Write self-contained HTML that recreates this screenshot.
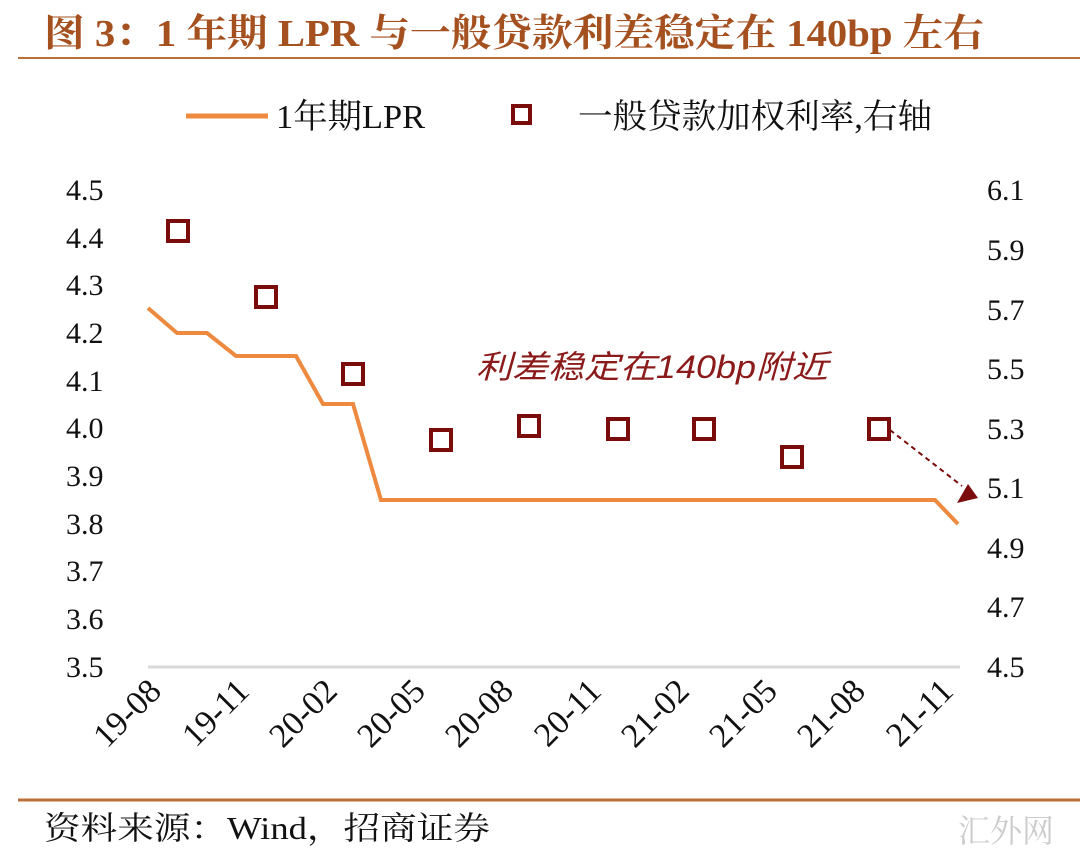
<!DOCTYPE html>
<html><head><meta charset="utf-8"><style>
body{margin:0;background:#fff;width:1080px;height:860px;overflow:hidden}
svg{display:block}
</style></head><body>
<svg width="1080" height="860" xmlns="http://www.w3.org/2000/svg" font-family="Liberation Serif, Noto Serif CJK SC, serif">
<text x="44" y="46" font-size="38" font-weight="bold" fill="#A5501F" textLength="940" lengthAdjust="spacingAndGlyphs">图 3：1 年期 LPR 与一般贷款利差稳定在 140bp 左右</text>
<line x1="18" y1="58" x2="1080" y2="58" stroke="#B87038" stroke-width="2"/>
<line x1="186" y1="116" x2="268" y2="116" stroke="#ED8A3F" stroke-width="5"/>
<text x="276" y="128" font-size="34" fill="#111" textLength="149" lengthAdjust="spacingAndGlyphs">1年期LPR</text>
<rect x="513" y="106" width="17" height="17" fill="none" stroke="#7B0C0C" stroke-width="4"/>
<text x="578" y="128" font-size="34" fill="#111" textLength="354" lengthAdjust="spacingAndGlyphs">一般贷款加权利率,右轴</text>
<g font-size="30" fill="#111">
<text x="66" y="200">4.5</text><text x="66" y="248">4.4</text><text x="66" y="295">4.3</text><text x="66" y="343">4.2</text><text x="66" y="391">4.1</text><text x="66" y="438">4.0</text><text x="66" y="486">3.9</text><text x="66" y="534">3.8</text><text x="66" y="581">3.7</text><text x="66" y="629">3.6</text><text x="66" y="677">3.5</text>
<text x="987" y="200">6.1</text><text x="987" y="260">5.9</text><text x="987" y="320">5.7</text><text x="987" y="379">5.5</text><text x="987" y="439">5.3</text><text x="987" y="498">5.1</text><text x="987" y="558">4.9</text><text x="987" y="617">4.7</text><text x="987" y="677">4.5</text>
</g>
<line x1="148" y1="667" x2="960" y2="667" stroke="#D9D9D9" stroke-width="3"/>
<polyline points="148,308 177,333 207,333 236,356 296,356 323,404 353,404 381,500 935,500 958,524" fill="none" stroke="#ED8A3F" stroke-width="4"/>
<g fill="none" stroke="#7B0C0C" stroke-width="4">
<rect x="168" y="221" width="20" height="20"/><rect x="256" y="287" width="20" height="20"/><rect x="343" y="364" width="20" height="20"/><rect x="431" y="430" width="20" height="20"/><rect x="519" y="416" width="20" height="20"/><rect x="608" y="419" width="20" height="20"/><rect x="694" y="419" width="20" height="20"/><rect x="782" y="447" width="20" height="20"/><rect x="869" y="419" width="20" height="20"/>
</g>
<line x1="890" y1="430" x2="962" y2="486" stroke="#7B0C0C" stroke-width="2" stroke-dasharray="5,4"/>
<polygon points="978,498 957,503 968,484" fill="#7B0C0C"/>
<text x="476" y="378" font-size="32" font-style="italic" fill="#8B1A1A" font-family="Liberation Sans, Noto Sans CJK SC, sans-serif" textLength="352" lengthAdjust="spacingAndGlyphs">利差稳定在140bp附近</text>
<g font-size="34" fill="#111" text-anchor="end">
<text transform="translate(163,693) rotate(-45)">19-08</text>
<text transform="translate(251,693) rotate(-45)">19-11</text>
<text transform="translate(339,693) rotate(-45)">20-02</text>
<text transform="translate(427,693) rotate(-45)">20-05</text>
<text transform="translate(515,693) rotate(-45)">20-08</text>
<text transform="translate(603,693) rotate(-45)">20-11</text>
<text transform="translate(691,693) rotate(-45)">21-02</text>
<text transform="translate(779,693) rotate(-45)">21-05</text>
<text transform="translate(867,693) rotate(-45)">21-08</text>
<text transform="translate(955,693) rotate(-45)">21-11</text>
</g>
<line x1="18" y1="800" x2="1080" y2="800" stroke="#B87038" stroke-width="3"/>
<text x="44" y="839" font-size="32" fill="#111" textLength="446" lengthAdjust="spacingAndGlyphs">资料来源：Wind，招商证券</text>
<text x="958" y="842" font-size="32" fill="#ccc">汇外网</text>
</svg>
</body></html>
